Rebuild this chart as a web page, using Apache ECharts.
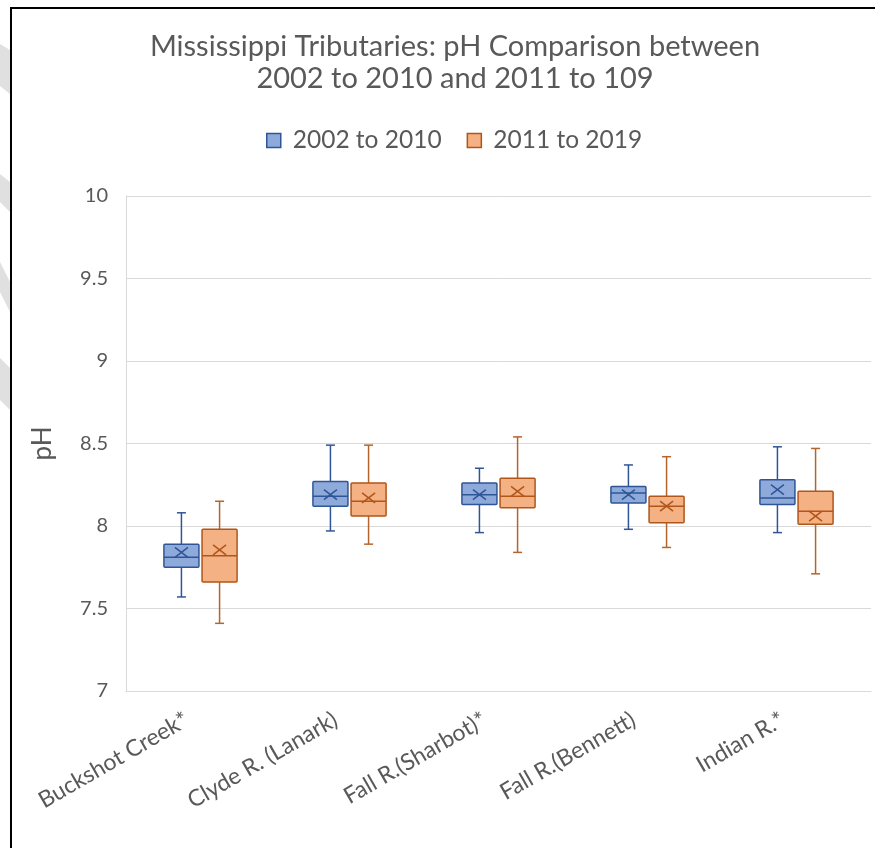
<!DOCTYPE html>
<html>
<head>
<meta charset="utf-8">
<script src="https://cdn.jsdelivr.net/npm/echarts@6/dist/echarts.min.js"></script>
<style>
  html, body { margin: 0; padding: 0; background: #ffffff; }
  #frame { position: absolute; left: 10px; top: 7px; width: 900px; height: 900px; border-left: 2px solid #000; border-top: 2px solid #000; }
  #chart { position: absolute; left: 0; top: 0; width: 875px; height: 848px; }
</style>
</head>
<body>
<div id="frame"></div>
<div id="chart"></div>
<script>
const categories = ['Buckshot Creek*', 'Clyde R. (Lanark)', 'Fall R.(Sharbot)*', 'Fall R.(Bennett)', 'Indian R.*'];
const seriesNames = ['2002 to 2010', '2011 to 2019'];
// [min, Q1, median, Q3, max]
const box2002 = [
  [7.57, 7.75, 7.81, 7.89, 8.08],
  [7.97, 8.12, 8.18, 8.27, 8.49],
  [7.96, 8.13, 8.19, 8.26, 8.35],
  [7.98, 8.14, 8.20, 8.24, 8.37],
  [7.96, 8.13, 8.17, 8.28, 8.48]
];
const mean2002 = [7.84, 8.19, 8.19, 8.19, 8.22];
const box2011 = [
  [7.41, 7.66, 7.82, 7.98, 8.15],
  [7.89, 8.06, 8.15, 8.26, 8.49],
  [7.84, 8.11, 8.18, 8.29, 8.54],
  [7.87, 8.02, 8.12, 8.18, 8.42],
  [7.71, 8.01, 8.09, 8.21, 8.47]
];
const mean2011 = [7.855, 8.17, 8.21, 8.12, 8.06];
const yTicks = { min: 7, max: 10, interval: 0.5 };

const FONT = 'Lato';
const TXT = '#595959';

function buildData(boxes, means) {
  return boxes.map((b, i) => [i, b[0], b[1], b[2], b[3], b[4], means[i]]);
}

function makeRender(sign, fill, stroke, whiskerColor) {
  return function (params, api) {
    const i = api.value(0);
    const band = api.size([1, 0])[0];
    const base = api.coord([i, api.value(3)]);
    const cx = base[0] + sign * band * 0.128;
    const w = band * 0.235;
    const y = k => api.coord([i, api.value(k)])[1];
    const yMin = y(1), yQ1 = y(2), yMed = y(3), yQ3 = y(4), yMax = y(5), yMean = y(6);
    const cap = 4.5;
    const lw = 1.5;
    const ls = { stroke: whiskerColor, lineWidth: lw, fill: null };
    const bs = { stroke: stroke, lineWidth: lw, fill: null };
    const mx = 6.5, my = 5;
    return {
      type: 'group',
      children: [
        { type: 'line', shape: { x1: cx, y1: yMax, x2: cx, y2: yQ3 }, style: ls },
        { type: 'line', shape: { x1: cx, y1: yQ1, x2: cx, y2: yMin }, style: ls },
        { type: 'line', shape: { x1: cx - cap, y1: yMax, x2: cx + cap, y2: yMax }, style: ls },
        { type: 'line', shape: { x1: cx - cap, y1: yMin, x2: cx + cap, y2: yMin }, style: ls },
        { type: 'rect', shape: { x: cx - w / 2, y: yQ3, width: w, height: yQ1 - yQ3, r: 1 }, style: { fill: fill, stroke: stroke, lineWidth: lw } },
        { type: 'line', shape: { x1: cx - w / 2, y1: yMed, x2: cx + w / 2, y2: yMed }, style: bs },
        { type: 'line', shape: { x1: cx - mx, y1: yMean - my, x2: cx + mx, y2: yMean + my }, style: bs },
        { type: 'line', shape: { x1: cx - mx, y1: yMean + my, x2: cx + mx, y2: yMean - my }, style: bs }
      ]
    };
  };
}

const blue = { fill: '#8eaadb', stroke: '#2f5597', whisker: '#2f5597' };
const orange = { fill: '#f4b183', stroke: '#b0561a', whisker: '#b5642b' };

const wm = '#e0e0e0';
const watermark = [
  [[0, 44], [10, 50], [10, 94], [0, 86]],
  [[0, 174], [10, 182], [10, 212], [0, 202]],
  [[0, 262], [10, 282], [10, 312], [0, 292]],
  [[0, 358], [10, 368], [10, 410], [0, 400]]
].map(pts => ({ type: 'polygon', shape: { points: pts }, style: { fill: wm }, silent: true, z: -1 }));

const chart = echarts.init(document.getElementById('chart'), null, { renderer: 'canvas' });
chart.setOption({
  backgroundColor: 'transparent',
  animation: false,
  graphic: watermark,
  title: {
    text: 'Mississippi Tributaries: pH Comparison between\n2002 to 2010 and 2011 to 109',
    left: 450,
    textAlign: 'center',
    top: 26,
    textStyle: { fontFamily: FONT, fontSize: 29, fontWeight: 'normal', color: TXT, lineHeight: 32 }
  },
  legend: {
    top: 123,
    left: 261,
    icon: 'rect',
    itemWidth: 14,
    itemHeight: 14,
    itemGap: 25,
    textStyle: { fontFamily: FONT, fontSize: 24.5, color: TXT, padding: [0, 0, 0, 7] },
    data: [
      { name: seriesNames[0], itemStyle: { color: blue.fill, borderColor: blue.stroke, borderWidth: 1.5 } },
      { name: seriesNames[1], itemStyle: { color: orange.fill, borderColor: orange.stroke, borderWidth: 1.5 } }
    ]
  },
  grid: { left: 126, right: 4, top: 196, bottom: 157, containLabel: false },
  xAxis: {
    type: 'category',
    data: categories,
    axisLine: { show: true, lineStyle: { color: '#d9d9d9', width: 1 } },
    axisTick: { show: false },
    axisLabel: { rotate: 30, interval: 0, margin: 19, fontFamily: FONT, fontSize: 23, color: TXT, padding: [0, 16, 0, 0] }
  },
  yAxis: {
    type: 'value',
    min: yTicks.min,
    max: yTicks.max,
    interval: yTicks.interval,
    name: 'pH',
    nameLocation: 'middle',
    nameGap: 70,
    nameRotate: 90,
    nameTextStyle: { fontFamily: FONT, fontSize: 26, color: TXT },
    axisLine: { show: true, lineStyle: { color: '#d9d9d9', width: 1 } },
    axisTick: { show: false },
    splitLine: { lineStyle: { color: '#d9d9d9', width: 1 } },
    axisLabel: { margin: 18, fontFamily: FONT, fontSize: 20, color: TXT }
  },
  series: [
    {
      name: seriesNames[0],
      type: 'custom',
      itemStyle: { color: blue.fill, borderColor: blue.stroke, borderWidth: 1.5 },
      renderItem: makeRender(-1, blue.fill, blue.stroke, blue.whisker),
      encode: { x: 0, y: [1, 2, 3, 4, 5, 6] },
      data: buildData(box2002, mean2002),
      z: 3
    },
    {
      name: seriesNames[1],
      type: 'custom',
      itemStyle: { color: orange.fill, borderColor: orange.stroke, borderWidth: 1.5 },
      renderItem: makeRender(1, orange.fill, orange.stroke, orange.whisker),
      encode: { x: 0, y: [1, 2, 3, 4, 5, 6] },
      data: buildData(box2011, mean2011),
      z: 3
    }
  ]
});
</script>
</body>
</html>
